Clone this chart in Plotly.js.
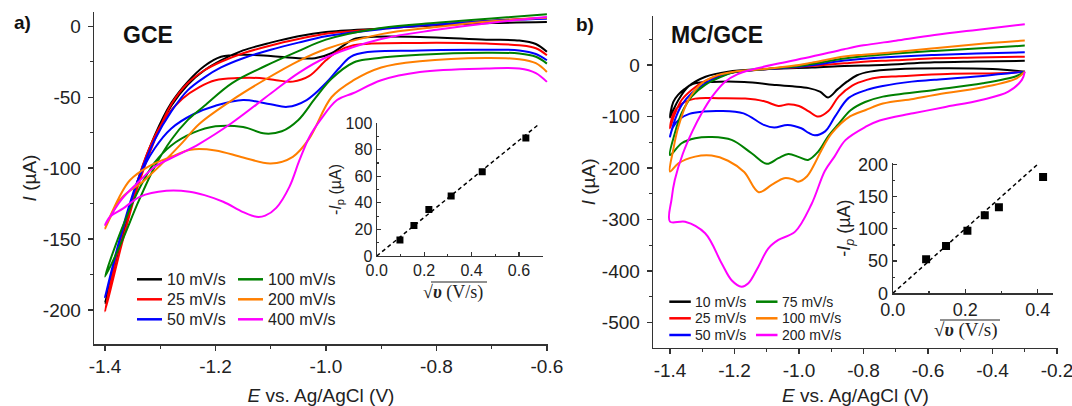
<!DOCTYPE html>
<html><head><meta charset="utf-8">
<script src="https://cdn.plot.ly/plotly-3.0.1.min.js"></script>
<style>html,body{margin:0;padding:0;background:#fff;}#chart{width:1072px;height:406px;}</style>
</head><body><div id="chart"></div>
<script>
// ---------- Panel a) GCE : cyclic voltammograms (cathodic sweep -0.6 -> -1.4, then return) ----------
const gce10E = [-0.6,-0.62,-0.65,-0.71,-0.83,-0.92,-0.95,-0.97,-0.99,-1.02,-1.05,-1.1,-1.15,-1.19,-1.22,-1.25,-1.28,-1.31,-1.34,-1.37,-1.4,
                -1.37,-1.34,-1.31,-1.28,-1.25,-1.22,-1.19,-1.15,-1.1,-1.05,-1.0,-0.9,-0.8,-0.7,-0.6];
const gce10I = [-18,-12.5,-10,-9.4,-7.5,-7.5,-9,-14,-19,-22.5,-22.5,-21,-20,-21.5,-28,-39,-54,-77,-108,-148,-195,
                -150,-110,-79,-56,-41,-31,-24,-17,-11.5,-7,-4,-1.5,0.8,2.3,3];
const gce25E = [-0.6,-0.62,-0.65,-0.71,-0.83,-0.95,-0.98,-1.0,-1.03,-1.06,-1.09,-1.12,-1.16,-1.2,-1.23,-1.26,-1.29,-1.32,-1.35,-1.38,-1.4,
                -1.37,-1.34,-1.31,-1.28,-1.25,-1.22,-1.19,-1.15,-1.1,-1.05,-1.0,-0.9,-0.8,-0.7,-0.6];
const gce25I = [-20.4,-15.5,-13.4,-12.2,-11.7,-13.4,-18,-24,-35,-39,-38,-36.5,-36.5,-38,-43,-51,-64,-86,-120,-163,-201,
                -154,-112,-80,-55,-40,-31,-25,-19,-13.5,-9,-5.2,-1.8,1.3,4,6];
const gce50E = [-0.6,-0.62,-0.65,-0.71,-0.83,-0.95,-0.975,-1.0,-1.035,-1.07,-1.1,-1.15,-1.2,-1.24,-1.28,-1.31,-1.34,-1.37,-1.4,
                -1.37,-1.34,-1.31,-1.28,-1.25,-1.22,-1.19,-1.15,-1.1,-1.05,-1.0,-0.9,-0.8,-0.7,-0.6];
const gce50I = [-23.9,-19.5,-17,-16.5,-17,-20.4,-29,-40,-52,-56.8,-55,-52,-56,-62,-72,-86,-108,-145,-191,
                -146,-108,-80,-60,-45,-36,-29,-22.5,-16.5,-11.5,-7,-2,1.3,4,5.4];
const gce100E = [-0.6,-0.62,-0.65,-0.71,-0.83,-0.92,-0.95,-0.99,-1.02,-1.05,-1.08,-1.11,-1.15,-1.2,-1.24,-1.28,-1.31,-1.34,-1.37,-1.4,
                 -1.37,-1.34,-1.31,-1.28,-1.25,-1.22,-1.17,-1.11,-1.05,-1.0,-0.9,-0.8,-0.7,-0.6];
const gce100I = [-26.3,-21.5,-19.2,-18.6,-20,-23,-25.5,-37,-51,-66,-74,-75.6,-71,-70.5,-75,-84,-96,-116,-143,-176.5,
                 -152,-124,-99,-80,-66,-56,-40,-28,-17.5,-9.4,-1.2,2.5,5.5,8.5];
const gce200E = [-0.6,-0.62,-0.65,-0.71,-0.83,-0.9,-0.95,-0.99,-1.03,-1.06,-1.1,-1.15,-1.2,-1.245,-1.28,-1.32,-1.355,-1.375,-1.4,
                 -1.37,-1.33,-1.3,-1.26,-1.23,-1.17,-1.11,-1.05,-1.0,-0.9,-0.8,-0.7,-0.6];
const gce200I = [-32.2,-26,-23.2,-22.3,-24.6,-29,-38,-50,-79,-92,-96.7,-92.5,-87.5,-87,-92,-98.5,-108.5,-121,-142.5,
                 -121,-109,-98,-82,-69,-52,-37.5,-24.5,-16,-5.5,-0.5,3.5,6];
const gce400E = [-0.6,-0.62,-0.65,-0.71,-0.83,-0.9,-0.95,-0.98,-1.01,-1.03,-1.048,-1.066,-1.09,-1.11,-1.126,-1.15,-1.186,-1.22,-1.247,-1.289,-1.337,-1.367,-1.391,-1.4,
                 -1.37,-1.34,-1.31,-1.27,-1.23,-1.17,-1.1,-1.05,-1.0,-0.9,-0.8,-0.7,-0.6];
const gce400I = [-39.2,-33,-29.8,-29.8,-32.2,-38,-47,-52,-66,-78,-94.4,-113,-128,-133.5,-134.3,-131,-123.7,-119,-116.6,-116,-120.2,-128.4,-134.3,-140,
                 -122,-110,-99,-91,-83,-68,-47.4,-33,-22,-9,-2.5,2.5,6.6];

// ---------- Panel b) MC/GCE : cyclic voltammograms (cathodic sweep -0.3 -> -1.4, then return) ----------
const mc10E = [-0.3,-0.4,-0.55,-0.7,-0.78,-0.82,-0.85,-0.88,-0.91,-0.935,-0.97,-1.02,-1.07,-1.17,-1.27,-1.33,-1.355,-1.375,-1.39,-1.4,
               -1.39,-1.374,-1.343,-1.29,-1.22,-1.12,-0.96,-0.86,-0.8,-0.68,-0.58,-0.45,-0.3];
const mc10I = [-13,-8,-6.5,-8.5,-13,-20,-32,-47,-63,-52,-45,-41.5,-39,-33,-33,-37,-47,-58,-72,-102,
               -88,-68,-42,-23,-13,-8.4,-5.2,-2,-1.3,2,5,6.5,8];
const mc25E = [-0.3,-0.38,-0.54,-0.69,-0.75,-0.79,-0.835,-0.877,-0.909,-0.94,-0.97,-1.0,-1.033,-1.064,-1.105,-1.167,-1.25,-1.322,-1.364,-1.39,-1.4,
               -1.385,-1.364,-1.333,-1.291,-1.24,-1.2,-1.12,-1.0,-0.96,-0.86,-0.8,-0.7,-0.58,-0.45,-0.3];
const mc25I = [-13,-16.2,-17.5,-22,-24,-29,-40,-61.5,-89.5,-100.3,-90,-79.6,-76.5,-79.6,-71,-65.4,-64.5,-65.4,-75.6,-95,-123,
               -95,-68,-48.5,-31,-19.4,-14,-9,-4,-1.9,3.2,6.4,9,13,14.5,16];
const mc50E = [-0.3,-0.43,-0.58,-0.65,-0.74,-0.79,-0.846,-0.888,-0.919,-0.951,-0.97,-0.993,-1.035,-1.077,-1.109,-1.172,-1.246,-1.298,-1.34,-1.37,-1.39,-1.4,
               -1.385,-1.364,-1.333,-1.291,-1.24,-1.2,-1.12,-1.0,-0.96,-0.86,-0.8,-0.7,-0.58,-0.45,-0.3];
const mc50I = [-13,-21.4,-29,-32.4,-40.8,-48.5,-64,-100,-129,-136.6,-132,-123,-116.5,-121.7,-116.5,-94,-89.3,-90.6,-95,-105,-120,-139,
               -107,-78,-55,-35.6,-21.4,-14,-9,-3.5,-0.6,8.4,12,16,19.4,22,24.6];
const mc75E = [-0.3,-0.325,-0.43,-0.58,-0.74,-0.795,-0.84,-0.878,-0.909,-0.94,-0.972,-1.0,-1.033,-1.064,-1.1,-1.147,-1.209,-1.271,-1.322,-1.364,-1.4,
               -1.385,-1.364,-1.333,-1.291,-1.24,-1.2,-1.12,-1.0,-0.96,-0.86,-0.8,-0.7,-0.58,-0.45,-0.3];
const mc75I = [-13,-21.4,-35.6,-48.5,-61.5,-72,-88,-115,-138,-168,-184.5,-179,-173,-181,-192,-171.5,-145.6,-140,-142.4,-152,-175,
               -132.6,-93.8,-61.5,-38.8,-22.7,-14,-9,-2,1.9,12.3,17,22,27.2,32,37.5];
const mc100E = [-0.3,-0.325,-0.43,-0.58,-0.646,-0.74,-0.793,-0.842,-0.898,-0.93,-0.95,-0.975,-1.003,-1.02,-1.046,-1.085,-1.125,-1.17,-1.22,-1.271,-1.322,-1.374,-1.4,
                -1.39,-1.374,-1.343,-1.302,-1.25,-1.2,-1.12,-1.0,-0.96,-0.86,-0.8,-0.7,-0.58,-0.45,-0.3];
const mc100I = [-13,-26,-43.4,-58.3,-66,-75,-87.4,-100,-132.6,-165,-190,-216,-226.6,-222,-220,-233,-247,-208,-186,-176,-178,-191,-207,
                -165,-120,-68,-36,-19.4,-13,-8.5,0,4.5,16.2,20,25,32.4,40,47.2];
const mc200E = [-0.3,-0.309,-0.351,-0.435,-0.55,-0.646,-0.75,-0.793,-0.856,-0.89,-0.92,-0.961,-1.012,-1.064,-1.095,-1.126,-1.157,-1.178,-1.209,-1.24,-1.291,-1.353,-1.4,
                -1.395,-1.385,-1.36,-1.33,-1.3,-1.27,-1.23,-1.19,-1.15,-1.06,-0.96,-0.86,-0.8,-0.7,-0.58,-0.45,-0.3];
const mc200I = [-13,-29,-51.8,-68,-82,-94,-108,-120,-146,-178,-206,-270,-323.6,-339.8,-356,-391.6,-424,-430.5,-418,-385,-326.8,-304.3,-304.3,
                -260,-223,-172,-128,-92,-62,-33,-18,-9.7,3.2,16.2,30.4,38,47,58,68,79];

// ---------- Insets: peak current vs sqrt(scan rate) ----------
const gceSqrtV = [0.098, 0.157, 0.220, 0.314, 0.445, 0.629];
const gceIp    = [12.1, 22.9, 34.9, 45.2, 63.3, 88.7];
const gceFitX  = [0, 0.68];
const gceFitY  = [0, 98.5];
const mcSqrtV  = [0.092, 0.147, 0.206, 0.254, 0.293, 0.415];
const mcIp     = [52.6, 73.2, 96.9, 121.1, 133.5, 180.4];
const mcIpErr  = [2, 2, 3, 3, 3, 4];
const mcFitX   = [0, 0.398];
const mcFitY   = [0, 199];

// ---------- Labels, ticks, colours ----------
const gceLabels = ['10 mV/s','25 mV/s','50 mV/s','100 mV/s','200 mV/s','400 mV/s'];
const mcLabels  = ['10 mV/s','25 mV/s','50 mV/s','75 mV/s','100 mV/s','200 mV/s'];
const seriesColors = ['#000000','#ff0000','#0000ff','#008000','#ff7f00','#ff00ff'];
const gceXTickVals = [-1.4,-1.2,-1.0,-0.8,-0.6];
const gceXTickText = ['-1.4','-1.2','-1.0','-0.8','-0.6'];
const gceYTickVals = [0,-50,-100,-150,-200];
const gceYTickText = ['0','-50','-100','-150','-200'];
const mcXTickVals = [-1.4,-1.2,-1.0,-0.8,-0.6,-0.4,-0.2];
const mcXTickText = ['-1.4','-1.2','-1.0','-0.8','-0.6','-0.4','-0.2'];
const mcYTickVals = [0,-100,-200,-300,-400,-500];
const mcYTickText = ['0','-100','-200','-300','-400','-500'];
const insAXTickVals = [0,0.2,0.4,0.6];
const insAXTickText = ['0.0','0.2','0.4','0.6'];
const insAYTickVals = [0,20,40,60,80,100];
const insBXTickVals = [0,0.2,0.4];
const insBXTickText = ['0.0','0.2','0.4'];
const insBYTickVals = [0,50,100,150,200];

// ---------- Build figure ----------
const W = 1072, H = 406;
const FONT = 'Liberation Sans, Arial, sans-serif';
const SERIF = 'Liberation Serif, Times New Roman, serif';
const px = v => v / W, py = v => 1 - v / H;

const gceSeries = [[gce10E,gce10I],[gce25E,gce25I],[gce50E,gce50I],[gce100E,gce100I],[gce200E,gce200I],[gce400E,gce400I]];
const mcSeries  = [[mc10E,mc10I],[mc25E,mc25I],[mc50E,mc50I],[mc75E,mc75I],[mc100E,mc100I],[mc200E,mc200I]];

const traces = [];
gceSeries.forEach((s, i) => traces.push({x:s[0], y:s[1], xaxis:'x', yaxis:'y', mode:'lines', name:'GCE '+gceLabels[i],
  line:{color:seriesColors[i], width:2, shape:'spline', smoothing:1}, showlegend:false, hoverinfo:'skip'}));
mcSeries.forEach((s, i) => traces.push({x:s[0], y:s[1], xaxis:'x2', yaxis:'y2', mode:'lines', name:'MC/GCE '+mcLabels[i],
  line:{color:seriesColors[i], width:2, shape:'spline', smoothing:1}, showlegend:false, hoverinfo:'skip'}));
traces.push({x:gceFitX, y:gceFitY, xaxis:'x3', yaxis:'y3', mode:'lines', line:{color:'#000', width:1.5, dash:'4px,3px'}, showlegend:false, hoverinfo:'skip'});
traces.push({x:gceSqrtV, y:gceIp, xaxis:'x3', yaxis:'y3', mode:'markers', marker:{symbol:'square', size:7, color:'#000'}, showlegend:false, hoverinfo:'skip'});
traces.push({x:mcFitX, y:mcFitY, xaxis:'x4', yaxis:'y4', mode:'lines', line:{color:'#000', width:1.5, dash:'4px,3px'}, showlegend:false, hoverinfo:'skip'});
traces.push({x:mcSqrtV, y:mcIp, xaxis:'x4', yaxis:'y4', mode:'markers', marker:{symbol:'square', size:8, color:'#000'},
  error_y:{type:'data', array:mcIpErr, visible:true, color:'#000', thickness:1, width:3}, showlegend:false, hoverinfo:'skip'});

const AX = '#333';
function mainAxis(extra) {
  return Object.assign({showline:true, linecolor:AX, linewidth:1.3, ticks:'outside', ticklen:5, tickwidth:1.3, tickcolor:AX,
    showgrid:false, zeroline:false, tickmode:'array', tickfont:{size:19, color:'#222', family:FONT}, fixedrange:true,
    ticklabeloverflow:'allow'}, extra);
}
function insetAxis(extra, fs) {
  return Object.assign({showline:true, linecolor:AX, linewidth:1.2, ticks:'inside', ticklen:4, tickwidth:1.2, tickcolor:AX,
    showgrid:false, zeroline:false, tickmode:'array', tickfont:{size:fs, color:'#222', family:FONT}, fixedrange:true}, extra);
}

const layout = {
  width:W, height:H, autosize:false, margin:{l:0, r:0, t:0, b:0},
  paper_bgcolor:'#fff', plot_bgcolor:'rgba(0,0,0,0)', font:{family:FONT, color:'#222'}, hovermode:false, showlegend:false,
  xaxis: mainAxis({domain:[px(94), px(548)], range:[-1.42,-0.598], anchor:'y', tickvals:gceXTickVals, ticktext:gceXTickText,
    minor:{tickmode:'linear', tick0:-1.4, dtick:0.1, ticks:'outside', ticklen:3, tickwidth:1.2, tickcolor:AX, showgrid:false},
    title:{text:'<i>E</i> vs. Ag/AgCl (V)', font:{size:19}, standoff:14}}),
  yaxis: mainAxis({domain:[py(344.3), py(11.7)], range:[-224.2,10.3], anchor:'x', tickvals:gceYTickVals, ticktext:gceYTickText,
    ticklabelstandoff:3,
    minor:{tickmode:'linear', tick0:0, dtick:25, ticks:'outside', ticklen:3, tickwidth:1.2, tickcolor:AX, showgrid:false},
    title:{text:'<i>I</i> (µA)', font:{size:19}, standoff:1}}),
  xaxis2: mainAxis({domain:[px(653), px(1058)], range:[-1.4527,-0.197], anchor:'y2', tickvals:mcXTickVals, ticktext:mcXTickText,
    minor:{tickmode:'linear', tick0:-1.4, dtick:0.1, ticks:'outside', ticklen:3, tickwidth:1.2, tickcolor:AX, showgrid:false},
    title:{text:'<i>E</i> vs. Ag/AgCl (V)', font:{size:19}, standoff:14}}),
  yaxis2: mainAxis({domain:[py(347.7), py(16)], range:[-549,95], anchor:'x2', tickvals:mcYTickVals, ticktext:mcYTickText,
    ticklabelstandoff:3,
    minor:{tickmode:'linear', tick0:0, dtick:50, ticks:'outside', ticklen:3, tickwidth:1.2, tickcolor:AX, showgrid:false},
    title:{text:'<i>I</i> (µA)', font:{size:19}, standoff:1}}),
  xaxis3: insetAxis({domain:[px(376.7), px(542.7)], range:[0,0.7], anchor:'y3', tickvals:insAXTickVals, ticktext:insAXTickText,
    minor:{tickmode:'linear', tick0:0, dtick:0.1, ticks:'inside', ticklen:2.5, tickcolor:AX, showgrid:false}}, 16),
  yaxis3: insetAxis({domain:[py(256), py(123)], range:[0,100], anchor:'x3', tickvals:insAYTickVals,
    minor:{tickmode:'linear', tick0:0, dtick:10, ticks:'inside', ticklen:2.5, tickcolor:AX, showgrid:false},
    title:{text:'-<i>I</i><sub>p</sub> (µA)', font:{size:16}, standoff:0}}, 16),
  xaxis4: insetAxis({domain:[px(892.8), px(1052.5)], range:[0,0.441], anchor:'y4', tickvals:insBXTickVals, ticktext:insBXTickText,
    minor:{tickmode:'linear', tick0:0, dtick:0.1, ticks:'inside', ticklen:2.5, tickcolor:AX, showgrid:false}}, 18),
  yaxis4: insetAxis({domain:[py(293.3), py(163)], range:[0,202], anchor:'x4', tickvals:insBYTickVals,
    minor:{tickmode:'linear', tick0:0, dtick:25, ticks:'inside', ticklen:2.5, tickcolor:AX, showgrid:false},
    title:{text:'-<i>I</i><sub><i>p</i></sub> (µA)', font:{size:18}, standoff:2}}, 18),
  annotations: [], shapes: []
};

const ann = layout.annotations, shp = layout.shapes;
function label(x, y, text, size, bold) {
  ann.push({xref:'paper', yref:'paper', x:px(x), y:py(y), xanchor:'center', yanchor:'middle', showarrow:false,
    text: bold ? '<b>'+text+'</b>' : text, font:{size:size, color:'#111', family:FONT}});
}
label(22, 23, 'a)', 19, true);
label(148, 35, 'GCE', 23, true);
label(585, 25, 'b)', 19, true);
label(717, 35, 'MC/GCE', 23, true);

// inset x-axis titles: sqrt(v) (V/s) with an overline for the radical
function sqrtTitle(cx, cy, size, x0, x1, yBar) {
  ann.push({xref:'paper', yref:'paper', x:px(cx), y:py(cy), xanchor:'center', yanchor:'middle', showarrow:false,
    text:'√<b><i>υ</i></b> (V/s)', font:{size:size, color:'#222', family:SERIF}});
  shp.push({type:'line', xref:'paper', yref:'paper', x0:px(x0), x1:px(x1), y0:py(yBar), y1:py(yBar), line:{color:'#222', width:1.2}});
}
sqrtTitle(453, 292, 18, 431, 487, 282);
sqrtTitle(966, 330, 19, 940, 1000, 320);

// manual two-column legends
function legend(labels, rowsY, colX, len, gap, fs) {
  labels.forEach((lab, i) => {
    const c = Math.floor(i / 3), r = i % 3, x0 = colX[c], y = rowsY[r];
    shp.push({type:'line', xref:'paper', yref:'paper', x0:px(x0), x1:px(x0 + len), y0:py(y), y1:py(y),
      line:{color:seriesColors[i], width:2.5}});
    ann.push({xref:'paper', yref:'paper', x:px(x0 + len + gap), y:py(y), xanchor:'left', yanchor:'middle', showarrow:false,
      text:lab, font:{size:fs, color:'#222', family:FONT}, borderpad:0});
  });
}
legend(gceLabels, [279.3, 299.3, 319.3], [137, 238], 25, 4, 16);
legend(mcLabels, [301.7, 318.3, 335], [669.3, 756], 21.5, 3.5, 14);

Plotly.newPlot('chart', traces, layout, {displayModeBar:false, staticPlot:true});
</script></body></html>
